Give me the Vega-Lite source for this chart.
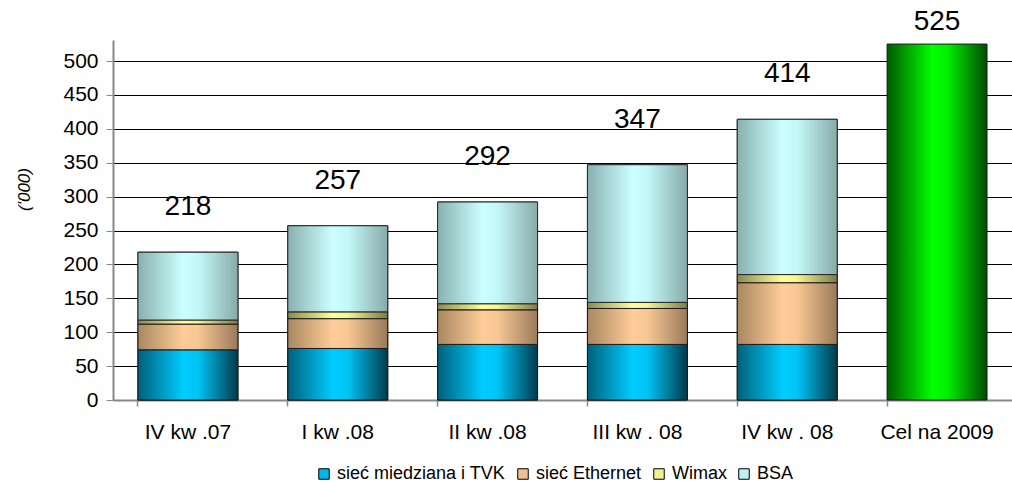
{
  "$schema": "https://vega.github.io/schema/vega-lite/v6.json",
  "width": 899,
  "height": 360,
  "autosize": {"type": "none"},
  "padding": {"left": 113, "top": 40, "right": 0, "bottom": 82},
  "background": "white",
  "config": {"view": {"stroke": null}, "font": "Liberation Sans"},
  "data": {
    "values": [
      {"q": "IV kw .07", "series": "sieć miedziana i TVK", "value": 74},
      {"q": "IV kw .07", "series": "sieć Ethernet", "value": 38},
      {"q": "IV kw .07", "series": "Wimax", "value": 6},
      {"q": "IV kw .07", "series": "BSA", "value": 100},
      {"q": "I kw .08", "series": "sieć miedziana i TVK", "value": 76},
      {"q": "I kw .08", "series": "sieć Ethernet", "value": 44},
      {"q": "I kw .08", "series": "Wimax", "value": 10},
      {"q": "I kw .08", "series": "BSA", "value": 127},
      {"q": "II kw .08", "series": "sieć miedziana i TVK", "value": 82},
      {"q": "II kw .08", "series": "sieć Ethernet", "value": 51},
      {"q": "II kw .08", "series": "Wimax", "value": 9},
      {"q": "II kw .08", "series": "BSA", "value": 150},
      {"q": "III kw . 08", "series": "sieć miedziana i TVK", "value": 82},
      {"q": "III kw . 08", "series": "sieć Ethernet", "value": 53},
      {"q": "III kw . 08", "series": "Wimax", "value": 9},
      {"q": "III kw . 08", "series": "BSA", "value": 203},
      {"q": "IV kw . 08", "series": "sieć miedziana i TVK", "value": 82},
      {"q": "IV kw . 08", "series": "sieć Ethernet", "value": 91},
      {"q": "IV kw . 08", "series": "Wimax", "value": 12},
      {"q": "IV kw . 08", "series": "BSA", "value": 229},
      {"q": "Cel na 2009", "series": "Cel", "value": 525}
    ]
  },
  "transform": [
    {"stack": "value", "groupby": ["q"], "sort": [{"field": "series", "order": "descending"}], "as": ["v0", "v1"]}
  ],
  "encoding": {
    "x": {"field": "q", "type": "nominal", "sort": null, "scale": {"paddingInner": 0.333, "paddingOuter": 0.1667}, "axis": null},
    "y": {"field": "v0", "type": "quantitative", "scale": {"domain": [0, 531], "nice": false},
      "axis": {"title": "('000)", "titleFontStyle": "italic", "titleFontWeight": "normal", "titleFontSize": 17, "titleColor": "#000", "titleX": -80, "titleY": 149, "values": [0, 50, 100, 150, 200, 250, 300, 350, 400, 450, 500], "labelOverlap": false, "grid": true, "gridColor": "#000", "gridWidth": 1, "domainColor": "#888", "domainWidth": 2, "tickColor": "#888", "tickSize": 7, "labelFontSize": 21, "labelColor": "#000", "labelPadding": 8}},
    "y2": {"field": "v1"}
  },
  "resolve": {"axis": {"x": "independent"}},
  "layer": [
    {
      "transform": [{"filter": "datum.series !== 'Cel'"}],
      "mark": {"type": "bar", "stroke": "#000", "strokeWidth": 1},
      "encoding": {
        "x": {"field": "q", "type": "nominal", "sort": null,
          "axis": {"title": null, "labelFontSize": 21, "labelColor": "#000", "labelPadding": 21, "ticks": false, "domainColor": "#888", "domainWidth": 2, "labelAngle": 0}},
        "color": {"field": "series", "type": "nominal",
          "scale": {"domain": ["sieć miedziana i TVK", "sieć Ethernet", "Wimax", "BSA"], "range": ["#00B8E8", "#F0C090", "#F0F090", "#C0F0F0"]},
          "legend": {"orient": "none", "legendX": 202, "legendY": 425, "direction": "horizontal", "title": null, "symbolType": "square", "symbolSize": 110, "symbolStrokeColor": "#000", "symbolStrokeWidth": 1, "labelFontSize": 18, "labelLimit": 0, "labelColor": "#000", "columnPadding": 8, "labelOffset": 4}}
      }
    },
    {
      "transform": [{"filter": "datum.series === 'sieć miedziana i TVK'"}],
      "mark": {"type": "bar", "stroke": "#1a1a1a", "strokeWidth": 1,
        "fill": {"gradient": "linear", "x1": 0, "y1": 0, "x2": 1, "y2": 0, "stops": [
          {"offset": 0, "color": "#00607A"}, {"offset": 0.45, "color": "#00CCFF"}, {"offset": 0.6, "color": "#00C4F5"}, {"offset": 1, "color": "#003A4A"}]}}
    },
    {
      "transform": [{"filter": "datum.series === 'sieć Ethernet'"}],
      "mark": {"type": "bar", "stroke": "#1a1a1a", "strokeWidth": 1,
        "fill": {"gradient": "linear", "x1": 0, "y1": 0, "x2": 1, "y2": 0, "stops": [
          {"offset": 0, "color": "#A88760"}, {"offset": 0.45, "color": "#FFCC99"}, {"offset": 0.6, "color": "#F8C794"}, {"offset": 1, "color": "#9A7A5A"}]}}
    },
    {
      "transform": [{"filter": "datum.series === 'Wimax'"}],
      "mark": {"type": "bar", "stroke": "#1a1a1a", "strokeWidth": 1,
        "fill": {"gradient": "linear", "x1": 0, "y1": 0, "x2": 1, "y2": 0, "stops": [
          {"offset": 0, "color": "#8A8A50"}, {"offset": 0.45, "color": "#FFFF99"}, {"offset": 0.6, "color": "#F5F594"}, {"offset": 1, "color": "#7A7A48"}]}}
    },
    {
      "transform": [{"filter": "datum.series === 'BSA'"}],
      "mark": {"type": "bar", "stroke": "#2a2a2a", "strokeWidth": 1,
        "fill": {"gradient": "linear", "x1": 0, "y1": 0, "x2": 1, "y2": 0, "stops": [
          {"offset": 0, "color": "#8AB0B0"}, {"offset": 0.45, "color": "#CCFFFF"}, {"offset": 0.6, "color": "#C4F8F8"}, {"offset": 1, "color": "#88AAAA"}]}}
    },
    {
      "transform": [{"filter": "datum.series === 'Cel'"}],
      "mark": {"type": "bar", "stroke": "#1a1a1a", "strokeWidth": 1,
        "fill": {"gradient": "linear", "x1": 0, "y1": 0, "x2": 1, "y2": 0, "stops": [
          {"offset": 0, "color": "#005A00"}, {"offset": 0.45, "color": "#00FF00"}, {"offset": 0.6, "color": "#00F000"}, {"offset": 1, "color": "#004A00"}]}},
      "encoding": {
        "x": {"field": "q", "type": "nominal", "sort": null,
          "axis": {"orient": "bottom", "title": null, "labels": false, "domain": false, "ticks": true, "tickSize": 6, "tickColor": "#888", "tickWidth": 1.5, "bandPosition": 0}}
      }
    },
    {
      "transform": [{"filter": "datum.series === 'BSA'"}],
      "mark": {"type": "text", "fontSize": 28, "dy": -45, "color": "#000"},
      "encoding": {
        "y": {"field": "v1", "type": "quantitative",
          "axis": {"title": "('000)", "titleFontStyle": "italic", "titleFontWeight": "normal", "titleFontSize": 17, "titleColor": "#000", "titleX": -80, "titleY": 149, "values": [0, 50, 100, 150, 200, 250, 300, 350, 400, 450, 500], "labelOverlap": false, "grid": true, "gridColor": "#000", "gridWidth": 1, "domainColor": "#888", "domainWidth": 2, "tickColor": "#888", "tickSize": 7, "labelFontSize": 21, "labelColor": "#000", "labelPadding": 8}},
        "y2": null,
        "text": {"field": "v1", "type": "quantitative", "format": "d"}
      }
    },
    {
      "transform": [{"filter": "datum.series === 'Cel'"}],
      "mark": {"type": "text", "fontSize": 28, "dy": -22, "color": "#000"},
      "encoding": {
        "y": {"field": "v1", "type": "quantitative",
          "axis": {"title": "('000)", "titleFontStyle": "italic", "titleFontWeight": "normal", "titleFontSize": 17, "titleColor": "#000", "titleX": -80, "titleY": 149, "values": [0, 50, 100, 150, 200, 250, 300, 350, 400, 450, 500], "labelOverlap": false, "grid": true, "gridColor": "#000", "gridWidth": 1, "domainColor": "#888", "domainWidth": 2, "tickColor": "#888", "tickSize": 7, "labelFontSize": 21, "labelColor": "#000", "labelPadding": 8}},
        "y2": null,
        "text": {"field": "v1", "type": "quantitative", "format": "d"}
      }
    }
  ]
}
